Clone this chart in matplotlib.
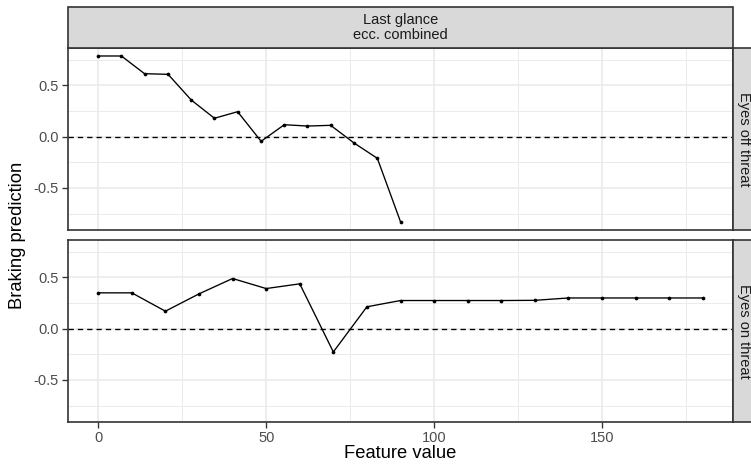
import matplotlib
matplotlib.use("Agg")
import matplotlib.pyplot as plt
from matplotlib.patches import Rectangle

plt.rcParams['font.family'] = ['Liberation Sans', 'DejaVu Sans']

# Data
x_off = [0, 6.9, 13.8, 20.8, 27.7, 34.6, 41.5, 48.5, 55.4, 62.3, 69.2, 76.2, 83.1, 90]
y_off = [0.788, 0.788, 0.615, 0.609, 0.358, 0.18, 0.244, -0.045, 0.117, 0.104, 0.111, -0.062, -0.211, -0.83]
x_on = [0, 10, 20, 30, 40, 50, 60, 70, 80, 90, 100, 110, 120, 130, 140, 150, 160, 170, 180]
y_on = [0.35, 0.35, 0.171, 0.34, 0.49, 0.392, 0.438, -0.227, 0.214, 0.275, 0.275, 0.275, 0.275, 0.277,
        0.30, 0.30, 0.30, 0.30, 0.30]
panel_labels = ["Eyes off threat", "Eyes on threat"]
top_strip = "Last glance\necc. combined"
x_ticks = [0, 50, 100, 150]
y_ticks = [-0.5, 0.0, 0.5]
y_tick_labels = ["-0.5", "0.0", "0.5"]

W, H = 751, 466
dpi = 120
fig = plt.figure(figsize=(W / dpi, H / dpi), dpi=dpi)

def fx(px):
    return px / W

def fy(py):
    return 1 - py / H

L, R = 68, 733
panels = [(48, 230), (240, 422)]
xlim = (-9, 189)
ylim = (-0.911, 0.866)

grid_c = '#EBEBEB'
border_c = '#333333'
strip_fill = '#D9D9D9'

datasets = [(x_off, y_off), (x_on, y_on)]
axes = []
for i, ((top, bot), (xs, ys)) in enumerate(zip(panels, datasets)):
    ax = fig.add_axes([fx(L), fy(bot), fx(R) - fx(L), fy(top) - fy(bot)])
    ax.set_xlim(*xlim)
    ax.set_ylim(*ylim)
    for gx in [0, 50, 100, 150]:
        ax.axvline(gx, color=grid_c, lw=1.0, zorder=0)
    for gx in [25, 75, 125, 175]:
        ax.axvline(gx, color=grid_c, lw=0.6, zorder=0)
    for gy in [-0.5, 0, 0.5]:
        ax.axhline(gy, color=grid_c, lw=1.0, zorder=0)
    for gy in [-0.75, -0.25, 0.25, 0.75]:
        ax.axhline(gy, color=grid_c, lw=0.6, zorder=0)
    ax.axhline(0, color='black', lw=0.8, ls=(0, (4, 3)), zorder=1)
    ax.plot(xs, ys, color='black', lw=0.8, zorder=2)
    ax.scatter(xs, ys, s=5, color='black', zorder=3, linewidths=0)
    for sp in ax.spines.values():
        sp.set_color(border_c)
        sp.set_linewidth(1.0)
    ax.set_yticks(y_ticks)
    ax.set_yticklabels(y_tick_labels)
    ax.set_xticks(x_ticks)
    ax.tick_params(axis='both', colors='#333333', labelcolor='#4D4D4D', labelsize=8.8,
                   length=3.5, width=0.8, pad=2)
    if i == 0:
        ax.tick_params(axis='x', labelbottom=False, length=0)
    # right strip
    ax.add_patch(Rectangle((1.0, 0), 24 / (R - L), 1, transform=ax.transAxes,
                           facecolor=strip_fill, edgecolor=border_c, lw=1.0, clip_on=False, zorder=5))
    ax.text(1.0 + 11 / (R - L), 0.5, panel_labels[i], transform=ax.transAxes, rotation=270,
            ha='center', va='center', fontsize=8.8, color='#1A1A1A', clip_on=False, zorder=6)
    axes.append(ax)

# top strip
fig.patches.append(Rectangle((fx(L), fy(48)), fx(R) - fx(L), fy(7) - fy(48), transform=fig.transFigure,
                             facecolor=strip_fill, edgecolor=border_c, lw=1.0, zorder=5))
fig.text((fx(L) + fx(R)) / 2, fy(27.5), top_strip, ha='center', va='center',
         fontsize=8.8, color='#1A1A1A', linespacing=1.15, zorder=10)

fig.text((fx(L) + fx(R)) / 2, fy(454), "Feature value", ha='center', va='center', fontsize=11)
fig.text(fx(18), (fy(48) + fy(422)) / 2, "Braking prediction", ha='center', va='center',
         rotation=90, fontsize=11)

fig.savefig("out.png", dpi=dpi)
